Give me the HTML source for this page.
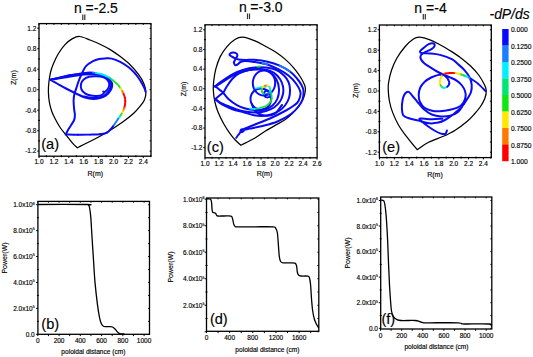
<!DOCTYPE html>
<html><head><meta charset="utf-8"><style>
html,body{margin:0;padding:0;background:#fff;}
svg{display:block;}
text{font-family:"Liberation Sans", sans-serif;fill:#000;stroke:#000;stroke-width:0.15px;}
</style></head><body>
<svg width="533" height="357" viewBox="0 0 533 357">
<rect width="533" height="357" fill="#fff"/>
<rect x="39.00" y="23.60" width="112.00" height="132.60" fill="none" stroke="#000" stroke-width="1.30"/>
<line x1="37.20" y1="151.14" x2="39.00" y2="151.14" stroke="#000" stroke-width="1.00"/>
<line x1="149.60" y1="151.14" x2="151.00" y2="151.14" stroke="#000" stroke-width="1.00"/>
<line x1="38.00" y1="140.90" x2="40.00" y2="140.90" stroke="#000" stroke-width="1.00"/>
<line x1="149.60" y1="140.90" x2="151.00" y2="140.90" stroke="#000" stroke-width="1.00"/>
<line x1="37.20" y1="130.66" x2="39.00" y2="130.66" stroke="#000" stroke-width="1.00"/>
<line x1="149.60" y1="130.66" x2="151.00" y2="130.66" stroke="#000" stroke-width="1.00"/>
<line x1="38.00" y1="120.42" x2="40.00" y2="120.42" stroke="#000" stroke-width="1.00"/>
<line x1="149.60" y1="120.42" x2="151.00" y2="120.42" stroke="#000" stroke-width="1.00"/>
<line x1="37.20" y1="110.18" x2="39.00" y2="110.18" stroke="#000" stroke-width="1.00"/>
<line x1="149.60" y1="110.18" x2="151.00" y2="110.18" stroke="#000" stroke-width="1.00"/>
<line x1="38.00" y1="99.94" x2="40.00" y2="99.94" stroke="#000" stroke-width="1.00"/>
<line x1="149.60" y1="99.94" x2="151.00" y2="99.94" stroke="#000" stroke-width="1.00"/>
<line x1="37.20" y1="89.70" x2="39.00" y2="89.70" stroke="#000" stroke-width="1.00"/>
<line x1="149.60" y1="89.70" x2="151.00" y2="89.70" stroke="#000" stroke-width="1.00"/>
<line x1="38.00" y1="79.46" x2="40.00" y2="79.46" stroke="#000" stroke-width="1.00"/>
<line x1="149.60" y1="79.46" x2="151.00" y2="79.46" stroke="#000" stroke-width="1.00"/>
<line x1="37.20" y1="69.22" x2="39.00" y2="69.22" stroke="#000" stroke-width="1.00"/>
<line x1="149.60" y1="69.22" x2="151.00" y2="69.22" stroke="#000" stroke-width="1.00"/>
<line x1="38.00" y1="58.98" x2="40.00" y2="58.98" stroke="#000" stroke-width="1.00"/>
<line x1="149.60" y1="58.98" x2="151.00" y2="58.98" stroke="#000" stroke-width="1.00"/>
<line x1="37.20" y1="48.74" x2="39.00" y2="48.74" stroke="#000" stroke-width="1.00"/>
<line x1="149.60" y1="48.74" x2="151.00" y2="48.74" stroke="#000" stroke-width="1.00"/>
<line x1="38.00" y1="38.50" x2="40.00" y2="38.50" stroke="#000" stroke-width="1.00"/>
<line x1="149.60" y1="38.50" x2="151.00" y2="38.50" stroke="#000" stroke-width="1.00"/>
<line x1="37.20" y1="28.26" x2="39.00" y2="28.26" stroke="#000" stroke-width="1.00"/>
<line x1="149.60" y1="28.26" x2="151.00" y2="28.26" stroke="#000" stroke-width="1.00"/>
<line x1="39.00" y1="156.20" x2="39.00" y2="158.00" stroke="#000" stroke-width="1.00"/>
<line x1="39.00" y1="23.60" x2="39.00" y2="24.90" stroke="#000" stroke-width="1.00"/>
<line x1="46.45" y1="155.20" x2="46.45" y2="157.20" stroke="#000" stroke-width="1.00"/>
<line x1="46.45" y1="23.60" x2="46.45" y2="24.90" stroke="#000" stroke-width="1.00"/>
<line x1="53.90" y1="156.20" x2="53.90" y2="158.00" stroke="#000" stroke-width="1.00"/>
<line x1="53.90" y1="23.60" x2="53.90" y2="24.90" stroke="#000" stroke-width="1.00"/>
<line x1="61.35" y1="155.20" x2="61.35" y2="157.20" stroke="#000" stroke-width="1.00"/>
<line x1="61.35" y1="23.60" x2="61.35" y2="24.90" stroke="#000" stroke-width="1.00"/>
<line x1="68.80" y1="156.20" x2="68.80" y2="158.00" stroke="#000" stroke-width="1.00"/>
<line x1="68.80" y1="23.60" x2="68.80" y2="24.90" stroke="#000" stroke-width="1.00"/>
<line x1="76.25" y1="155.20" x2="76.25" y2="157.20" stroke="#000" stroke-width="1.00"/>
<line x1="76.25" y1="23.60" x2="76.25" y2="24.90" stroke="#000" stroke-width="1.00"/>
<line x1="83.70" y1="156.20" x2="83.70" y2="158.00" stroke="#000" stroke-width="1.00"/>
<line x1="83.70" y1="23.60" x2="83.70" y2="24.90" stroke="#000" stroke-width="1.00"/>
<line x1="91.15" y1="155.20" x2="91.15" y2="157.20" stroke="#000" stroke-width="1.00"/>
<line x1="91.15" y1="23.60" x2="91.15" y2="24.90" stroke="#000" stroke-width="1.00"/>
<line x1="98.60" y1="156.20" x2="98.60" y2="158.00" stroke="#000" stroke-width="1.00"/>
<line x1="98.60" y1="23.60" x2="98.60" y2="24.90" stroke="#000" stroke-width="1.00"/>
<line x1="106.05" y1="155.20" x2="106.05" y2="157.20" stroke="#000" stroke-width="1.00"/>
<line x1="106.05" y1="23.60" x2="106.05" y2="24.90" stroke="#000" stroke-width="1.00"/>
<line x1="113.50" y1="156.20" x2="113.50" y2="158.00" stroke="#000" stroke-width="1.00"/>
<line x1="113.50" y1="23.60" x2="113.50" y2="24.90" stroke="#000" stroke-width="1.00"/>
<line x1="120.95" y1="155.20" x2="120.95" y2="157.20" stroke="#000" stroke-width="1.00"/>
<line x1="120.95" y1="23.60" x2="120.95" y2="24.90" stroke="#000" stroke-width="1.00"/>
<line x1="128.40" y1="156.20" x2="128.40" y2="158.00" stroke="#000" stroke-width="1.00"/>
<line x1="128.40" y1="23.60" x2="128.40" y2="24.90" stroke="#000" stroke-width="1.00"/>
<line x1="135.85" y1="155.20" x2="135.85" y2="157.20" stroke="#000" stroke-width="1.00"/>
<line x1="135.85" y1="23.60" x2="135.85" y2="24.90" stroke="#000" stroke-width="1.00"/>
<line x1="143.30" y1="156.20" x2="143.30" y2="158.00" stroke="#000" stroke-width="1.00"/>
<line x1="143.30" y1="23.60" x2="143.30" y2="24.90" stroke="#000" stroke-width="1.00"/>
<line x1="150.75" y1="155.20" x2="150.75" y2="157.20" stroke="#000" stroke-width="1.00"/>
<line x1="150.75" y1="23.60" x2="150.75" y2="24.90" stroke="#000" stroke-width="1.00"/>
<text x="36.40" y="30.60" font-size="6.50" text-anchor="end" >1.2</text>
<text x="36.40" y="51.08" font-size="6.50" text-anchor="end" >0.8</text>
<text x="36.40" y="71.56" font-size="6.50" text-anchor="end" >0.4</text>
<text x="36.40" y="92.04" font-size="6.50" text-anchor="end" >0.0</text>
<text x="36.40" y="112.52" font-size="6.50" text-anchor="end" >-0.4</text>
<text x="36.40" y="133.00" font-size="6.50" text-anchor="end" >-0.8</text>
<text x="36.40" y="153.48" font-size="6.50" text-anchor="end" >-1.2</text>
<text x="39.00" y="164.44" font-size="6.50" text-anchor="middle" >1.0</text>
<text x="53.90" y="164.44" font-size="6.50" text-anchor="middle" >1.2</text>
<text x="68.80" y="164.44" font-size="6.50" text-anchor="middle" >1.4</text>
<text x="83.70" y="164.44" font-size="6.50" text-anchor="middle" >1.6</text>
<text x="98.60" y="164.44" font-size="6.50" text-anchor="middle" >1.8</text>
<text x="113.50" y="164.44" font-size="6.50" text-anchor="middle" >2.0</text>
<text x="128.40" y="164.44" font-size="6.50" text-anchor="middle" >2.2</text>
<text x="143.30" y="164.44" font-size="6.50" text-anchor="middle" >2.4</text>
<text x="0" y="0" font-size="7" text-anchor="middle" transform="translate(15.90 77.60) rotate(-90)">Z(m)</text>
<text x="95.30" y="176.00" font-size="7.00" text-anchor="middle" >R(m)</text>
<text x="41.20" y="148.80" font-size="14.60" text-anchor="start" >(a)</text>
<rect x="205.00" y="24.80" width="112.10" height="133.00" fill="none" stroke="#000" stroke-width="1.30"/>
<line x1="203.20" y1="147.67" x2="205.00" y2="147.67" stroke="#000" stroke-width="1.00"/>
<line x1="315.70" y1="147.67" x2="317.10" y2="147.67" stroke="#000" stroke-width="1.00"/>
<line x1="204.00" y1="137.85" x2="206.00" y2="137.85" stroke="#000" stroke-width="1.00"/>
<line x1="315.70" y1="137.85" x2="317.10" y2="137.85" stroke="#000" stroke-width="1.00"/>
<line x1="203.20" y1="128.03" x2="205.00" y2="128.03" stroke="#000" stroke-width="1.00"/>
<line x1="315.70" y1="128.03" x2="317.10" y2="128.03" stroke="#000" stroke-width="1.00"/>
<line x1="204.00" y1="118.21" x2="206.00" y2="118.21" stroke="#000" stroke-width="1.00"/>
<line x1="315.70" y1="118.21" x2="317.10" y2="118.21" stroke="#000" stroke-width="1.00"/>
<line x1="203.20" y1="108.39" x2="205.00" y2="108.39" stroke="#000" stroke-width="1.00"/>
<line x1="315.70" y1="108.39" x2="317.10" y2="108.39" stroke="#000" stroke-width="1.00"/>
<line x1="204.00" y1="98.57" x2="206.00" y2="98.57" stroke="#000" stroke-width="1.00"/>
<line x1="315.70" y1="98.57" x2="317.10" y2="98.57" stroke="#000" stroke-width="1.00"/>
<line x1="203.20" y1="88.75" x2="205.00" y2="88.75" stroke="#000" stroke-width="1.00"/>
<line x1="315.70" y1="88.75" x2="317.10" y2="88.75" stroke="#000" stroke-width="1.00"/>
<line x1="204.00" y1="78.93" x2="206.00" y2="78.93" stroke="#000" stroke-width="1.00"/>
<line x1="315.70" y1="78.93" x2="317.10" y2="78.93" stroke="#000" stroke-width="1.00"/>
<line x1="203.20" y1="69.11" x2="205.00" y2="69.11" stroke="#000" stroke-width="1.00"/>
<line x1="315.70" y1="69.11" x2="317.10" y2="69.11" stroke="#000" stroke-width="1.00"/>
<line x1="204.00" y1="59.29" x2="206.00" y2="59.29" stroke="#000" stroke-width="1.00"/>
<line x1="315.70" y1="59.29" x2="317.10" y2="59.29" stroke="#000" stroke-width="1.00"/>
<line x1="203.20" y1="49.47" x2="205.00" y2="49.47" stroke="#000" stroke-width="1.00"/>
<line x1="315.70" y1="49.47" x2="317.10" y2="49.47" stroke="#000" stroke-width="1.00"/>
<line x1="204.00" y1="39.65" x2="206.00" y2="39.65" stroke="#000" stroke-width="1.00"/>
<line x1="315.70" y1="39.65" x2="317.10" y2="39.65" stroke="#000" stroke-width="1.00"/>
<line x1="203.20" y1="29.83" x2="205.00" y2="29.83" stroke="#000" stroke-width="1.00"/>
<line x1="315.70" y1="29.83" x2="317.10" y2="29.83" stroke="#000" stroke-width="1.00"/>
<line x1="205.00" y1="157.80" x2="205.00" y2="159.60" stroke="#000" stroke-width="1.00"/>
<line x1="205.00" y1="24.80" x2="205.00" y2="26.10" stroke="#000" stroke-width="1.00"/>
<line x1="212.00" y1="156.80" x2="212.00" y2="158.80" stroke="#000" stroke-width="1.00"/>
<line x1="212.00" y1="24.80" x2="212.00" y2="26.10" stroke="#000" stroke-width="1.00"/>
<line x1="219.00" y1="157.80" x2="219.00" y2="159.60" stroke="#000" stroke-width="1.00"/>
<line x1="219.00" y1="24.80" x2="219.00" y2="26.10" stroke="#000" stroke-width="1.00"/>
<line x1="226.00" y1="156.80" x2="226.00" y2="158.80" stroke="#000" stroke-width="1.00"/>
<line x1="226.00" y1="24.80" x2="226.00" y2="26.10" stroke="#000" stroke-width="1.00"/>
<line x1="233.00" y1="157.80" x2="233.00" y2="159.60" stroke="#000" stroke-width="1.00"/>
<line x1="233.00" y1="24.80" x2="233.00" y2="26.10" stroke="#000" stroke-width="1.00"/>
<line x1="240.00" y1="156.80" x2="240.00" y2="158.80" stroke="#000" stroke-width="1.00"/>
<line x1="240.00" y1="24.80" x2="240.00" y2="26.10" stroke="#000" stroke-width="1.00"/>
<line x1="247.00" y1="157.80" x2="247.00" y2="159.60" stroke="#000" stroke-width="1.00"/>
<line x1="247.00" y1="24.80" x2="247.00" y2="26.10" stroke="#000" stroke-width="1.00"/>
<line x1="254.00" y1="156.80" x2="254.00" y2="158.80" stroke="#000" stroke-width="1.00"/>
<line x1="254.00" y1="24.80" x2="254.00" y2="26.10" stroke="#000" stroke-width="1.00"/>
<line x1="261.00" y1="157.80" x2="261.00" y2="159.60" stroke="#000" stroke-width="1.00"/>
<line x1="261.00" y1="24.80" x2="261.00" y2="26.10" stroke="#000" stroke-width="1.00"/>
<line x1="268.00" y1="156.80" x2="268.00" y2="158.80" stroke="#000" stroke-width="1.00"/>
<line x1="268.00" y1="24.80" x2="268.00" y2="26.10" stroke="#000" stroke-width="1.00"/>
<line x1="275.00" y1="157.80" x2="275.00" y2="159.60" stroke="#000" stroke-width="1.00"/>
<line x1="275.00" y1="24.80" x2="275.00" y2="26.10" stroke="#000" stroke-width="1.00"/>
<line x1="282.00" y1="156.80" x2="282.00" y2="158.80" stroke="#000" stroke-width="1.00"/>
<line x1="282.00" y1="24.80" x2="282.00" y2="26.10" stroke="#000" stroke-width="1.00"/>
<line x1="289.00" y1="157.80" x2="289.00" y2="159.60" stroke="#000" stroke-width="1.00"/>
<line x1="289.00" y1="24.80" x2="289.00" y2="26.10" stroke="#000" stroke-width="1.00"/>
<line x1="296.00" y1="156.80" x2="296.00" y2="158.80" stroke="#000" stroke-width="1.00"/>
<line x1="296.00" y1="24.80" x2="296.00" y2="26.10" stroke="#000" stroke-width="1.00"/>
<line x1="303.00" y1="157.80" x2="303.00" y2="159.60" stroke="#000" stroke-width="1.00"/>
<line x1="303.00" y1="24.80" x2="303.00" y2="26.10" stroke="#000" stroke-width="1.00"/>
<line x1="310.00" y1="156.80" x2="310.00" y2="158.80" stroke="#000" stroke-width="1.00"/>
<line x1="310.00" y1="24.80" x2="310.00" y2="26.10" stroke="#000" stroke-width="1.00"/>
<line x1="317.00" y1="157.80" x2="317.00" y2="159.60" stroke="#000" stroke-width="1.00"/>
<line x1="317.00" y1="24.80" x2="317.00" y2="26.10" stroke="#000" stroke-width="1.00"/>
<text x="202.40" y="32.17" font-size="6.50" text-anchor="end" >1.2</text>
<text x="202.40" y="51.81" font-size="6.50" text-anchor="end" >0.8</text>
<text x="202.40" y="71.45" font-size="6.50" text-anchor="end" >0.4</text>
<text x="202.40" y="91.09" font-size="6.50" text-anchor="end" >0.0</text>
<text x="202.40" y="110.73" font-size="6.50" text-anchor="end" >-0.4</text>
<text x="202.40" y="130.37" font-size="6.50" text-anchor="end" >-0.8</text>
<text x="202.40" y="150.01" font-size="6.50" text-anchor="end" >-1.2</text>
<text x="205.00" y="166.24" font-size="6.50" text-anchor="middle" >1.0</text>
<text x="219.00" y="166.24" font-size="6.50" text-anchor="middle" >1.2</text>
<text x="233.00" y="166.24" font-size="6.50" text-anchor="middle" >1.4</text>
<text x="247.00" y="166.24" font-size="6.50" text-anchor="middle" >1.6</text>
<text x="261.00" y="166.24" font-size="6.50" text-anchor="middle" >1.8</text>
<text x="275.00" y="166.24" font-size="6.50" text-anchor="middle" >2.0</text>
<text x="289.00" y="166.24" font-size="6.50" text-anchor="middle" >2.2</text>
<text x="303.00" y="166.24" font-size="6.50" text-anchor="middle" >2.4</text>
<text x="317.00" y="166.24" font-size="6.50" text-anchor="middle" >2.6</text>
<text x="0" y="0" font-size="7" text-anchor="middle" transform="translate(185.80 89.00) rotate(-90)">Z(m)</text>
<text x="264.50" y="175.90" font-size="7.00" text-anchor="middle" >R(m)</text>
<text x="206.80" y="151.60" font-size="14.60" text-anchor="start" >(c)</text>
<rect x="379.40" y="25.00" width="111.90" height="132.60" fill="none" stroke="#000" stroke-width="1.30"/>
<line x1="377.60" y1="152.20" x2="379.40" y2="152.20" stroke="#000" stroke-width="1.00"/>
<line x1="489.90" y1="152.20" x2="491.30" y2="152.20" stroke="#000" stroke-width="1.00"/>
<line x1="378.40" y1="142.00" x2="380.40" y2="142.00" stroke="#000" stroke-width="1.00"/>
<line x1="489.90" y1="142.00" x2="491.30" y2="142.00" stroke="#000" stroke-width="1.00"/>
<line x1="377.60" y1="131.80" x2="379.40" y2="131.80" stroke="#000" stroke-width="1.00"/>
<line x1="489.90" y1="131.80" x2="491.30" y2="131.80" stroke="#000" stroke-width="1.00"/>
<line x1="378.40" y1="121.60" x2="380.40" y2="121.60" stroke="#000" stroke-width="1.00"/>
<line x1="489.90" y1="121.60" x2="491.30" y2="121.60" stroke="#000" stroke-width="1.00"/>
<line x1="377.60" y1="111.40" x2="379.40" y2="111.40" stroke="#000" stroke-width="1.00"/>
<line x1="489.90" y1="111.40" x2="491.30" y2="111.40" stroke="#000" stroke-width="1.00"/>
<line x1="378.40" y1="101.20" x2="380.40" y2="101.20" stroke="#000" stroke-width="1.00"/>
<line x1="489.90" y1="101.20" x2="491.30" y2="101.20" stroke="#000" stroke-width="1.00"/>
<line x1="377.60" y1="91.00" x2="379.40" y2="91.00" stroke="#000" stroke-width="1.00"/>
<line x1="489.90" y1="91.00" x2="491.30" y2="91.00" stroke="#000" stroke-width="1.00"/>
<line x1="378.40" y1="80.80" x2="380.40" y2="80.80" stroke="#000" stroke-width="1.00"/>
<line x1="489.90" y1="80.80" x2="491.30" y2="80.80" stroke="#000" stroke-width="1.00"/>
<line x1="377.60" y1="70.60" x2="379.40" y2="70.60" stroke="#000" stroke-width="1.00"/>
<line x1="489.90" y1="70.60" x2="491.30" y2="70.60" stroke="#000" stroke-width="1.00"/>
<line x1="378.40" y1="60.40" x2="380.40" y2="60.40" stroke="#000" stroke-width="1.00"/>
<line x1="489.90" y1="60.40" x2="491.30" y2="60.40" stroke="#000" stroke-width="1.00"/>
<line x1="377.60" y1="50.20" x2="379.40" y2="50.20" stroke="#000" stroke-width="1.00"/>
<line x1="489.90" y1="50.20" x2="491.30" y2="50.20" stroke="#000" stroke-width="1.00"/>
<line x1="378.40" y1="40.00" x2="380.40" y2="40.00" stroke="#000" stroke-width="1.00"/>
<line x1="489.90" y1="40.00" x2="491.30" y2="40.00" stroke="#000" stroke-width="1.00"/>
<line x1="377.60" y1="29.80" x2="379.40" y2="29.80" stroke="#000" stroke-width="1.00"/>
<line x1="489.90" y1="29.80" x2="491.30" y2="29.80" stroke="#000" stroke-width="1.00"/>
<line x1="379.50" y1="157.60" x2="379.50" y2="159.40" stroke="#000" stroke-width="1.00"/>
<line x1="379.50" y1="25.00" x2="379.50" y2="26.30" stroke="#000" stroke-width="1.00"/>
<line x1="386.92" y1="156.60" x2="386.92" y2="158.60" stroke="#000" stroke-width="1.00"/>
<line x1="386.92" y1="25.00" x2="386.92" y2="26.30" stroke="#000" stroke-width="1.00"/>
<line x1="394.34" y1="157.60" x2="394.34" y2="159.40" stroke="#000" stroke-width="1.00"/>
<line x1="394.34" y1="25.00" x2="394.34" y2="26.30" stroke="#000" stroke-width="1.00"/>
<line x1="401.76" y1="156.60" x2="401.76" y2="158.60" stroke="#000" stroke-width="1.00"/>
<line x1="401.76" y1="25.00" x2="401.76" y2="26.30" stroke="#000" stroke-width="1.00"/>
<line x1="409.18" y1="157.60" x2="409.18" y2="159.40" stroke="#000" stroke-width="1.00"/>
<line x1="409.18" y1="25.00" x2="409.18" y2="26.30" stroke="#000" stroke-width="1.00"/>
<line x1="416.60" y1="156.60" x2="416.60" y2="158.60" stroke="#000" stroke-width="1.00"/>
<line x1="416.60" y1="25.00" x2="416.60" y2="26.30" stroke="#000" stroke-width="1.00"/>
<line x1="424.02" y1="157.60" x2="424.02" y2="159.40" stroke="#000" stroke-width="1.00"/>
<line x1="424.02" y1="25.00" x2="424.02" y2="26.30" stroke="#000" stroke-width="1.00"/>
<line x1="431.44" y1="156.60" x2="431.44" y2="158.60" stroke="#000" stroke-width="1.00"/>
<line x1="431.44" y1="25.00" x2="431.44" y2="26.30" stroke="#000" stroke-width="1.00"/>
<line x1="438.86" y1="157.60" x2="438.86" y2="159.40" stroke="#000" stroke-width="1.00"/>
<line x1="438.86" y1="25.00" x2="438.86" y2="26.30" stroke="#000" stroke-width="1.00"/>
<line x1="446.28" y1="156.60" x2="446.28" y2="158.60" stroke="#000" stroke-width="1.00"/>
<line x1="446.28" y1="25.00" x2="446.28" y2="26.30" stroke="#000" stroke-width="1.00"/>
<line x1="453.70" y1="157.60" x2="453.70" y2="159.40" stroke="#000" stroke-width="1.00"/>
<line x1="453.70" y1="25.00" x2="453.70" y2="26.30" stroke="#000" stroke-width="1.00"/>
<line x1="461.12" y1="156.60" x2="461.12" y2="158.60" stroke="#000" stroke-width="1.00"/>
<line x1="461.12" y1="25.00" x2="461.12" y2="26.30" stroke="#000" stroke-width="1.00"/>
<line x1="468.54" y1="157.60" x2="468.54" y2="159.40" stroke="#000" stroke-width="1.00"/>
<line x1="468.54" y1="25.00" x2="468.54" y2="26.30" stroke="#000" stroke-width="1.00"/>
<line x1="475.96" y1="156.60" x2="475.96" y2="158.60" stroke="#000" stroke-width="1.00"/>
<line x1="475.96" y1="25.00" x2="475.96" y2="26.30" stroke="#000" stroke-width="1.00"/>
<line x1="483.38" y1="157.60" x2="483.38" y2="159.40" stroke="#000" stroke-width="1.00"/>
<line x1="483.38" y1="25.00" x2="483.38" y2="26.30" stroke="#000" stroke-width="1.00"/>
<line x1="490.80" y1="156.60" x2="490.80" y2="158.60" stroke="#000" stroke-width="1.00"/>
<line x1="490.80" y1="25.00" x2="490.80" y2="26.30" stroke="#000" stroke-width="1.00"/>
<text x="376.80" y="32.14" font-size="6.50" text-anchor="end" >1.2</text>
<text x="376.80" y="52.54" font-size="6.50" text-anchor="end" >0.8</text>
<text x="376.80" y="72.94" font-size="6.50" text-anchor="end" >0.4</text>
<text x="376.80" y="93.34" font-size="6.50" text-anchor="end" >0.0</text>
<text x="376.80" y="113.74" font-size="6.50" text-anchor="end" >-0.4</text>
<text x="376.80" y="134.14" font-size="6.50" text-anchor="end" >-0.8</text>
<text x="376.80" y="154.54" font-size="6.50" text-anchor="end" >-1.2</text>
<text x="379.50" y="166.04" font-size="6.50" text-anchor="middle" >1.0</text>
<text x="394.34" y="166.04" font-size="6.50" text-anchor="middle" >1.2</text>
<text x="409.18" y="166.04" font-size="6.50" text-anchor="middle" >1.4</text>
<text x="424.02" y="166.04" font-size="6.50" text-anchor="middle" >1.6</text>
<text x="438.86" y="166.04" font-size="6.50" text-anchor="middle" >1.8</text>
<text x="453.70" y="166.04" font-size="6.50" text-anchor="middle" >2.0</text>
<text x="468.54" y="166.04" font-size="6.50" text-anchor="middle" >2.2</text>
<text x="483.38" y="166.04" font-size="6.50" text-anchor="middle" >2.4</text>
<text x="0" y="0" font-size="7" text-anchor="middle" transform="translate(358.10 90.50) rotate(-90)">Z(m)</text>
<text x="435.00" y="177.10" font-size="7.00" text-anchor="middle" >R(m)</text>
<text x="382.20" y="151.80" font-size="14.60" text-anchor="start" >(e)</text>
<text x="74.00" y="13.30" font-size="14.00" text-anchor="start" >n</text>
<line x1="82.80" y1="14.50" x2="82.80" y2="20.10" stroke="#333" stroke-width="1.20"/>
<line x1="84.80" y1="14.50" x2="84.80" y2="20.10" stroke="#333" stroke-width="1.20"/>
<text x="85.60" y="13.30" font-size="14.00" text-anchor="start" >=-2.5</text>
<text x="238.90" y="12.30" font-size="14.00" text-anchor="start" >n</text>
<line x1="247.50" y1="13.50" x2="247.50" y2="19.10" stroke="#333" stroke-width="1.20"/>
<line x1="249.50" y1="13.50" x2="249.50" y2="19.10" stroke="#333" stroke-width="1.20"/>
<text x="250.30" y="12.30" font-size="14.00" text-anchor="start" >=-3.0</text>
<text x="414.30" y="12.80" font-size="14.00" text-anchor="start" >n</text>
<line x1="423.30" y1="14.00" x2="423.30" y2="19.60" stroke="#333" stroke-width="1.20"/>
<line x1="425.30" y1="14.00" x2="425.30" y2="19.60" stroke="#333" stroke-width="1.20"/>
<text x="426.10" y="12.80" font-size="14.00" text-anchor="start" >=-4</text>
<rect x="502.2" y="29.00" width="6.4" height="16.70" fill="#0a0aff"/>
<rect x="502.2" y="45.50" width="6.4" height="16.70" fill="#1a7eff"/>
<rect x="502.2" y="62.00" width="6.4" height="16.70" fill="#00f0ff"/>
<rect x="502.2" y="78.50" width="6.4" height="16.70" fill="#00e676"/>
<rect x="502.2" y="95.00" width="6.4" height="16.70" fill="#10e610"/>
<rect x="502.2" y="111.50" width="6.4" height="16.70" fill="#ffe800"/>
<rect x="502.2" y="128.00" width="6.4" height="16.70" fill="#ff7800"/>
<rect x="502.2" y="144.50" width="6.4" height="16.70" fill="#ff0000"/>
<text x="510.90" y="32.11" font-size="6.70" text-anchor="start" >0.000</text>
<text x="510.90" y="48.61" font-size="6.70" text-anchor="start" >0.1250</text>
<text x="510.90" y="65.11" font-size="6.70" text-anchor="start" >0.2500</text>
<text x="510.90" y="81.61" font-size="6.70" text-anchor="start" >0.3750</text>
<text x="510.90" y="98.11" font-size="6.70" text-anchor="start" >0.5000</text>
<text x="510.90" y="114.61" font-size="6.70" text-anchor="start" >0.6250</text>
<text x="510.90" y="131.11" font-size="6.70" text-anchor="start" >0.7500</text>
<text x="510.90" y="147.61" font-size="6.70" text-anchor="start" >0.8750</text>
<text x="510.90" y="164.11" font-size="6.70" text-anchor="start" >1.000</text>
<text x="489.50" y="18.50" font-size="13.90" text-anchor="start" font-style="italic">-dP/ds</text>
<rect x="37.90" y="201.40" width="111.60" height="132.90" fill="none" stroke="#000" stroke-width="1.30"/>
<line x1="36.10" y1="334.30" x2="37.90" y2="334.30" stroke="#000" stroke-width="1.00"/>
<line x1="148.10" y1="334.30" x2="149.50" y2="334.30" stroke="#000" stroke-width="1.00"/>
<line x1="36.90" y1="321.34" x2="38.90" y2="321.34" stroke="#000" stroke-width="1.00"/>
<line x1="148.10" y1="321.34" x2="149.50" y2="321.34" stroke="#000" stroke-width="1.00"/>
<line x1="36.10" y1="308.38" x2="37.90" y2="308.38" stroke="#000" stroke-width="1.00"/>
<line x1="148.10" y1="308.38" x2="149.50" y2="308.38" stroke="#000" stroke-width="1.00"/>
<line x1="36.90" y1="295.42" x2="38.90" y2="295.42" stroke="#000" stroke-width="1.00"/>
<line x1="148.10" y1="295.42" x2="149.50" y2="295.42" stroke="#000" stroke-width="1.00"/>
<line x1="36.10" y1="282.46" x2="37.90" y2="282.46" stroke="#000" stroke-width="1.00"/>
<line x1="148.10" y1="282.46" x2="149.50" y2="282.46" stroke="#000" stroke-width="1.00"/>
<line x1="36.90" y1="269.50" x2="38.90" y2="269.50" stroke="#000" stroke-width="1.00"/>
<line x1="148.10" y1="269.50" x2="149.50" y2="269.50" stroke="#000" stroke-width="1.00"/>
<line x1="36.10" y1="256.54" x2="37.90" y2="256.54" stroke="#000" stroke-width="1.00"/>
<line x1="148.10" y1="256.54" x2="149.50" y2="256.54" stroke="#000" stroke-width="1.00"/>
<line x1="36.90" y1="243.58" x2="38.90" y2="243.58" stroke="#000" stroke-width="1.00"/>
<line x1="148.10" y1="243.58" x2="149.50" y2="243.58" stroke="#000" stroke-width="1.00"/>
<line x1="36.10" y1="230.62" x2="37.90" y2="230.62" stroke="#000" stroke-width="1.00"/>
<line x1="148.10" y1="230.62" x2="149.50" y2="230.62" stroke="#000" stroke-width="1.00"/>
<line x1="36.90" y1="217.66" x2="38.90" y2="217.66" stroke="#000" stroke-width="1.00"/>
<line x1="148.10" y1="217.66" x2="149.50" y2="217.66" stroke="#000" stroke-width="1.00"/>
<line x1="36.10" y1="204.70" x2="37.90" y2="204.70" stroke="#000" stroke-width="1.00"/>
<line x1="148.10" y1="204.70" x2="149.50" y2="204.70" stroke="#000" stroke-width="1.00"/>
<line x1="37.80" y1="334.30" x2="37.80" y2="336.10" stroke="#000" stroke-width="1.00"/>
<line x1="37.80" y1="201.40" x2="37.80" y2="202.70" stroke="#000" stroke-width="1.00"/>
<line x1="48.43" y1="334.30" x2="48.43" y2="336.10" stroke="#000" stroke-width="1.00"/>
<line x1="48.43" y1="201.40" x2="48.43" y2="202.70" stroke="#000" stroke-width="1.00"/>
<line x1="59.06" y1="334.30" x2="59.06" y2="336.10" stroke="#000" stroke-width="1.00"/>
<line x1="59.06" y1="201.40" x2="59.06" y2="202.70" stroke="#000" stroke-width="1.00"/>
<line x1="69.69" y1="334.30" x2="69.69" y2="336.10" stroke="#000" stroke-width="1.00"/>
<line x1="69.69" y1="201.40" x2="69.69" y2="202.70" stroke="#000" stroke-width="1.00"/>
<line x1="80.32" y1="334.30" x2="80.32" y2="336.10" stroke="#000" stroke-width="1.00"/>
<line x1="80.32" y1="201.40" x2="80.32" y2="202.70" stroke="#000" stroke-width="1.00"/>
<line x1="90.95" y1="334.30" x2="90.95" y2="336.10" stroke="#000" stroke-width="1.00"/>
<line x1="90.95" y1="201.40" x2="90.95" y2="202.70" stroke="#000" stroke-width="1.00"/>
<line x1="101.58" y1="334.30" x2="101.58" y2="336.10" stroke="#000" stroke-width="1.00"/>
<line x1="101.58" y1="201.40" x2="101.58" y2="202.70" stroke="#000" stroke-width="1.00"/>
<line x1="112.21" y1="334.30" x2="112.21" y2="336.10" stroke="#000" stroke-width="1.00"/>
<line x1="112.21" y1="201.40" x2="112.21" y2="202.70" stroke="#000" stroke-width="1.00"/>
<line x1="122.84" y1="334.30" x2="122.84" y2="336.10" stroke="#000" stroke-width="1.00"/>
<line x1="122.84" y1="201.40" x2="122.84" y2="202.70" stroke="#000" stroke-width="1.00"/>
<line x1="133.47" y1="334.30" x2="133.47" y2="336.10" stroke="#000" stroke-width="1.00"/>
<line x1="133.47" y1="201.40" x2="133.47" y2="202.70" stroke="#000" stroke-width="1.00"/>
<line x1="144.10" y1="334.30" x2="144.10" y2="336.10" stroke="#000" stroke-width="1.00"/>
<line x1="144.10" y1="201.40" x2="144.10" y2="202.70" stroke="#000" stroke-width="1.00"/>
<text x="34.70" y="336.64" font-size="6.50" text-anchor="end" >0.0</text>
<text x="34.70" y="310.82" font-size="6.50" text-anchor="end">2.0x10<tspan font-size="3.58" dy="-2.6">5</tspan></text>
<text x="34.70" y="284.90" font-size="6.50" text-anchor="end">4.0x10<tspan font-size="3.58" dy="-2.6">5</tspan></text>
<text x="34.70" y="258.98" font-size="6.50" text-anchor="end">6.0x10<tspan font-size="3.58" dy="-2.6">5</tspan></text>
<text x="34.70" y="233.06" font-size="6.50" text-anchor="end">8.0x10<tspan font-size="3.58" dy="-2.6">5</tspan></text>
<text x="34.70" y="207.14" font-size="6.50" text-anchor="end">1.0x10<tspan font-size="3.58" dy="-2.6">6</tspan></text>
<text x="37.80" y="343.24" font-size="6.50" text-anchor="middle" >0</text>
<text x="59.06" y="343.24" font-size="6.50" text-anchor="middle" >200</text>
<text x="80.32" y="343.24" font-size="6.50" text-anchor="middle" >400</text>
<text x="101.58" y="343.24" font-size="6.50" text-anchor="middle" >600</text>
<text x="122.84" y="343.24" font-size="6.50" text-anchor="middle" >800</text>
<text x="144.10" y="343.24" font-size="6.50" text-anchor="middle" >1000</text>
<text x="93.40" y="354.48" font-size="6.60" text-anchor="middle" >poloidal distance (cm)</text>
<text x="0" y="0" font-size="7" text-anchor="middle" transform="translate(7.10 258.00) rotate(-90)">Power(W)</text>
<text x="41.30" y="328.80" font-size="14.60" text-anchor="start" >(b)</text>
<rect x="206.50" y="198.00" width="112.30" height="133.30" fill="none" stroke="#000" stroke-width="1.30"/>
<line x1="204.70" y1="331.80" x2="206.50" y2="331.80" stroke="#000" stroke-width="1.00"/>
<line x1="317.40" y1="331.80" x2="318.80" y2="331.80" stroke="#000" stroke-width="1.00"/>
<line x1="205.50" y1="318.54" x2="207.50" y2="318.54" stroke="#000" stroke-width="1.00"/>
<line x1="317.40" y1="318.54" x2="318.80" y2="318.54" stroke="#000" stroke-width="1.00"/>
<line x1="204.70" y1="305.28" x2="206.50" y2="305.28" stroke="#000" stroke-width="1.00"/>
<line x1="317.40" y1="305.28" x2="318.80" y2="305.28" stroke="#000" stroke-width="1.00"/>
<line x1="205.50" y1="292.02" x2="207.50" y2="292.02" stroke="#000" stroke-width="1.00"/>
<line x1="317.40" y1="292.02" x2="318.80" y2="292.02" stroke="#000" stroke-width="1.00"/>
<line x1="204.70" y1="278.76" x2="206.50" y2="278.76" stroke="#000" stroke-width="1.00"/>
<line x1="317.40" y1="278.76" x2="318.80" y2="278.76" stroke="#000" stroke-width="1.00"/>
<line x1="205.50" y1="265.50" x2="207.50" y2="265.50" stroke="#000" stroke-width="1.00"/>
<line x1="317.40" y1="265.50" x2="318.80" y2="265.50" stroke="#000" stroke-width="1.00"/>
<line x1="204.70" y1="252.24" x2="206.50" y2="252.24" stroke="#000" stroke-width="1.00"/>
<line x1="317.40" y1="252.24" x2="318.80" y2="252.24" stroke="#000" stroke-width="1.00"/>
<line x1="205.50" y1="238.98" x2="207.50" y2="238.98" stroke="#000" stroke-width="1.00"/>
<line x1="317.40" y1="238.98" x2="318.80" y2="238.98" stroke="#000" stroke-width="1.00"/>
<line x1="204.70" y1="225.72" x2="206.50" y2="225.72" stroke="#000" stroke-width="1.00"/>
<line x1="317.40" y1="225.72" x2="318.80" y2="225.72" stroke="#000" stroke-width="1.00"/>
<line x1="205.50" y1="212.46" x2="207.50" y2="212.46" stroke="#000" stroke-width="1.00"/>
<line x1="317.40" y1="212.46" x2="318.80" y2="212.46" stroke="#000" stroke-width="1.00"/>
<line x1="204.70" y1="199.20" x2="206.50" y2="199.20" stroke="#000" stroke-width="1.00"/>
<line x1="317.40" y1="199.20" x2="318.80" y2="199.20" stroke="#000" stroke-width="1.00"/>
<line x1="206.50" y1="331.30" x2="206.50" y2="333.10" stroke="#000" stroke-width="1.00"/>
<line x1="206.50" y1="198.00" x2="206.50" y2="199.30" stroke="#000" stroke-width="1.00"/>
<line x1="218.08" y1="331.30" x2="218.08" y2="333.10" stroke="#000" stroke-width="1.00"/>
<line x1="218.08" y1="198.00" x2="218.08" y2="199.30" stroke="#000" stroke-width="1.00"/>
<line x1="229.65" y1="331.30" x2="229.65" y2="333.10" stroke="#000" stroke-width="1.00"/>
<line x1="229.65" y1="198.00" x2="229.65" y2="199.30" stroke="#000" stroke-width="1.00"/>
<line x1="241.23" y1="331.30" x2="241.23" y2="333.10" stroke="#000" stroke-width="1.00"/>
<line x1="241.23" y1="198.00" x2="241.23" y2="199.30" stroke="#000" stroke-width="1.00"/>
<line x1="252.80" y1="331.30" x2="252.80" y2="333.10" stroke="#000" stroke-width="1.00"/>
<line x1="252.80" y1="198.00" x2="252.80" y2="199.30" stroke="#000" stroke-width="1.00"/>
<line x1="264.38" y1="331.30" x2="264.38" y2="333.10" stroke="#000" stroke-width="1.00"/>
<line x1="264.38" y1="198.00" x2="264.38" y2="199.30" stroke="#000" stroke-width="1.00"/>
<line x1="275.96" y1="331.30" x2="275.96" y2="333.10" stroke="#000" stroke-width="1.00"/>
<line x1="275.96" y1="198.00" x2="275.96" y2="199.30" stroke="#000" stroke-width="1.00"/>
<line x1="287.53" y1="331.30" x2="287.53" y2="333.10" stroke="#000" stroke-width="1.00"/>
<line x1="287.53" y1="198.00" x2="287.53" y2="199.30" stroke="#000" stroke-width="1.00"/>
<line x1="299.11" y1="331.30" x2="299.11" y2="333.10" stroke="#000" stroke-width="1.00"/>
<line x1="299.11" y1="198.00" x2="299.11" y2="199.30" stroke="#000" stroke-width="1.00"/>
<line x1="310.68" y1="331.30" x2="310.68" y2="333.10" stroke="#000" stroke-width="1.00"/>
<line x1="310.68" y1="198.00" x2="310.68" y2="199.30" stroke="#000" stroke-width="1.00"/>
<text x="204.50" y="307.72" font-size="6.50" text-anchor="end">2.0x10<tspan font-size="3.58" dy="-2.6">5</tspan></text>
<text x="204.50" y="281.20" font-size="6.50" text-anchor="end">4.0x10<tspan font-size="3.58" dy="-2.6">5</tspan></text>
<text x="204.50" y="254.68" font-size="6.50" text-anchor="end">6.0x10<tspan font-size="3.58" dy="-2.6">5</tspan></text>
<text x="204.50" y="228.16" font-size="6.50" text-anchor="end">8.0x10<tspan font-size="3.58" dy="-2.6">5</tspan></text>
<text x="204.50" y="201.64" font-size="6.50" text-anchor="end">1.0x10<tspan font-size="3.58" dy="-2.6">6</tspan></text>
<text x="206.50" y="340.04" font-size="6.50" text-anchor="middle" >0</text>
<text x="229.65" y="340.04" font-size="6.50" text-anchor="middle" >400</text>
<text x="252.80" y="340.04" font-size="6.50" text-anchor="middle" >800</text>
<text x="275.96" y="340.04" font-size="6.50" text-anchor="middle" >1200</text>
<text x="299.11" y="340.04" font-size="6.50" text-anchor="middle" >1600</text>
<text x="267.40" y="352.48" font-size="6.60" text-anchor="middle" >poloidal distance (cm)</text>
<text x="0" y="0" font-size="7" text-anchor="middle" transform="translate(173.40 267.00) rotate(-90)">Power(W)</text>
<text x="209.90" y="324.40" font-size="14.60" text-anchor="start" >(d)</text>
<rect x="380.70" y="197.00" width="111.10" height="132.00" fill="none" stroke="#000" stroke-width="1.30"/>
<line x1="378.90" y1="328.30" x2="380.70" y2="328.30" stroke="#000" stroke-width="1.00"/>
<line x1="490.40" y1="328.30" x2="491.80" y2="328.30" stroke="#000" stroke-width="1.00"/>
<line x1="379.70" y1="315.52" x2="381.70" y2="315.52" stroke="#000" stroke-width="1.00"/>
<line x1="490.40" y1="315.52" x2="491.80" y2="315.52" stroke="#000" stroke-width="1.00"/>
<line x1="378.90" y1="302.74" x2="380.70" y2="302.74" stroke="#000" stroke-width="1.00"/>
<line x1="490.40" y1="302.74" x2="491.80" y2="302.74" stroke="#000" stroke-width="1.00"/>
<line x1="379.70" y1="289.96" x2="381.70" y2="289.96" stroke="#000" stroke-width="1.00"/>
<line x1="490.40" y1="289.96" x2="491.80" y2="289.96" stroke="#000" stroke-width="1.00"/>
<line x1="378.90" y1="277.18" x2="380.70" y2="277.18" stroke="#000" stroke-width="1.00"/>
<line x1="490.40" y1="277.18" x2="491.80" y2="277.18" stroke="#000" stroke-width="1.00"/>
<line x1="379.70" y1="264.40" x2="381.70" y2="264.40" stroke="#000" stroke-width="1.00"/>
<line x1="490.40" y1="264.40" x2="491.80" y2="264.40" stroke="#000" stroke-width="1.00"/>
<line x1="378.90" y1="251.62" x2="380.70" y2="251.62" stroke="#000" stroke-width="1.00"/>
<line x1="490.40" y1="251.62" x2="491.80" y2="251.62" stroke="#000" stroke-width="1.00"/>
<line x1="379.70" y1="238.84" x2="381.70" y2="238.84" stroke="#000" stroke-width="1.00"/>
<line x1="490.40" y1="238.84" x2="491.80" y2="238.84" stroke="#000" stroke-width="1.00"/>
<line x1="378.90" y1="226.06" x2="380.70" y2="226.06" stroke="#000" stroke-width="1.00"/>
<line x1="490.40" y1="226.06" x2="491.80" y2="226.06" stroke="#000" stroke-width="1.00"/>
<line x1="379.70" y1="213.28" x2="381.70" y2="213.28" stroke="#000" stroke-width="1.00"/>
<line x1="490.40" y1="213.28" x2="491.80" y2="213.28" stroke="#000" stroke-width="1.00"/>
<line x1="378.90" y1="200.50" x2="380.70" y2="200.50" stroke="#000" stroke-width="1.00"/>
<line x1="490.40" y1="200.50" x2="491.80" y2="200.50" stroke="#000" stroke-width="1.00"/>
<line x1="380.50" y1="329.00" x2="380.50" y2="330.80" stroke="#000" stroke-width="1.00"/>
<line x1="380.50" y1="197.00" x2="380.50" y2="198.30" stroke="#000" stroke-width="1.00"/>
<line x1="391.07" y1="329.00" x2="391.07" y2="330.80" stroke="#000" stroke-width="1.00"/>
<line x1="391.07" y1="197.00" x2="391.07" y2="198.30" stroke="#000" stroke-width="1.00"/>
<line x1="401.64" y1="329.00" x2="401.64" y2="330.80" stroke="#000" stroke-width="1.00"/>
<line x1="401.64" y1="197.00" x2="401.64" y2="198.30" stroke="#000" stroke-width="1.00"/>
<line x1="412.21" y1="329.00" x2="412.21" y2="330.80" stroke="#000" stroke-width="1.00"/>
<line x1="412.21" y1="197.00" x2="412.21" y2="198.30" stroke="#000" stroke-width="1.00"/>
<line x1="422.78" y1="329.00" x2="422.78" y2="330.80" stroke="#000" stroke-width="1.00"/>
<line x1="422.78" y1="197.00" x2="422.78" y2="198.30" stroke="#000" stroke-width="1.00"/>
<line x1="433.35" y1="329.00" x2="433.35" y2="330.80" stroke="#000" stroke-width="1.00"/>
<line x1="433.35" y1="197.00" x2="433.35" y2="198.30" stroke="#000" stroke-width="1.00"/>
<line x1="443.92" y1="329.00" x2="443.92" y2="330.80" stroke="#000" stroke-width="1.00"/>
<line x1="443.92" y1="197.00" x2="443.92" y2="198.30" stroke="#000" stroke-width="1.00"/>
<line x1="454.49" y1="329.00" x2="454.49" y2="330.80" stroke="#000" stroke-width="1.00"/>
<line x1="454.49" y1="197.00" x2="454.49" y2="198.30" stroke="#000" stroke-width="1.00"/>
<line x1="465.06" y1="329.00" x2="465.06" y2="330.80" stroke="#000" stroke-width="1.00"/>
<line x1="465.06" y1="197.00" x2="465.06" y2="198.30" stroke="#000" stroke-width="1.00"/>
<line x1="475.63" y1="329.00" x2="475.63" y2="330.80" stroke="#000" stroke-width="1.00"/>
<line x1="475.63" y1="197.00" x2="475.63" y2="198.30" stroke="#000" stroke-width="1.00"/>
<line x1="486.20" y1="329.00" x2="486.20" y2="330.80" stroke="#000" stroke-width="1.00"/>
<line x1="486.20" y1="197.00" x2="486.20" y2="198.30" stroke="#000" stroke-width="1.00"/>
<text x="378.00" y="330.64" font-size="6.50" text-anchor="end" >0.0</text>
<text x="378.00" y="305.18" font-size="6.50" text-anchor="end">2.0x10<tspan font-size="3.58" dy="-2.6">5</tspan></text>
<text x="378.00" y="279.62" font-size="6.50" text-anchor="end">4.0x10<tspan font-size="3.58" dy="-2.6">5</tspan></text>
<text x="378.00" y="254.06" font-size="6.50" text-anchor="end">6.0x10<tspan font-size="3.58" dy="-2.6">5</tspan></text>
<text x="378.00" y="228.50" font-size="6.50" text-anchor="end">8.0x10<tspan font-size="3.58" dy="-2.6">5</tspan></text>
<text x="378.00" y="202.94" font-size="6.50" text-anchor="end">1.0x10<tspan font-size="3.58" dy="-2.6">6</tspan></text>
<text x="380.50" y="337.94" font-size="6.50" text-anchor="middle" >0</text>
<text x="401.64" y="337.94" font-size="6.50" text-anchor="middle" >200</text>
<text x="422.78" y="337.94" font-size="6.50" text-anchor="middle" >400</text>
<text x="443.92" y="337.94" font-size="6.50" text-anchor="middle" >600</text>
<text x="465.06" y="337.94" font-size="6.50" text-anchor="middle" >800</text>
<text x="486.20" y="337.94" font-size="6.50" text-anchor="middle" >1000</text>
<text x="436.50" y="349.28" font-size="6.60" text-anchor="middle" >poloidal distance (cm)</text>
<text x="0" y="0" font-size="7" text-anchor="middle" transform="translate(349.90 253.00) rotate(-90)">Power(W)</text>
<text x="381.40" y="323.90" font-size="14.60" text-anchor="start" >(f)</text>
<path d="M38.50 204.50 C46.58 204.50 78.65 204.37 87.00 204.50 C95.35 204.63 88.17 204.72 88.60 205.30 C89.03 205.88 89.23 205.98 89.60 208.00 C89.97 210.02 90.37 212.07 90.80 217.40 C91.23 222.73 91.75 232.90 92.20 240.00 C92.65 247.10 93.03 252.93 93.50 260.00 C93.97 267.07 94.33 274.93 95.00 282.40 C95.67 289.87 96.72 298.82 97.50 304.80 C98.28 310.78 99.03 315.10 99.70 318.30 C100.37 321.50 100.87 322.67 101.50 324.00 C102.13 325.33 102.75 325.87 103.50 326.30 C104.25 326.73 104.92 326.55 106.00 326.60 C107.08 326.65 108.92 326.53 110.00 326.60 C111.08 326.67 111.67 326.60 112.50 327.00 C113.33 327.40 114.08 328.08 115.00 329.00 C115.92 329.92 117.08 331.70 118.00 332.50 C118.92 333.30 119.50 333.55 120.50 333.80 C121.50 334.05 123.42 333.97 124.00 334.00" fill="none" stroke="#000" stroke-width="1.30" stroke-linecap="round" stroke-linejoin="round"/>
<path d="M206.70 199.00 C207.35 199.03 209.78 198.53 210.60 199.20 C211.42 199.87 211.35 201.20 211.60 203.00 C211.85 204.80 211.90 208.43 212.10 210.00 C212.30 211.57 212.48 211.95 212.80 212.40 C213.12 212.85 213.53 212.57 214.00 212.70 C214.47 212.83 215.17 212.75 215.60 213.20 C216.03 213.65 216.20 214.93 216.60 215.40 C217.00 215.87 216.77 215.90 218.00 216.00 C219.23 216.10 221.83 215.98 224.00 216.00 C226.17 216.02 229.58 215.68 231.00 216.10 C232.42 216.52 232.05 217.18 232.50 218.50 C232.95 219.82 233.25 222.67 233.70 224.00 C234.15 225.33 234.48 226.03 235.20 226.50 C235.92 226.97 234.70 226.75 238.00 226.80 C241.30 226.85 249.12 226.78 255.00 226.80 C260.88 226.82 269.83 226.60 273.30 226.90 C276.77 227.20 275.12 227.58 275.80 228.60 C276.48 229.62 276.97 230.27 277.40 233.00 C277.83 235.73 278.08 241.08 278.40 245.00 C278.72 248.92 278.93 253.75 279.30 256.50 C279.67 259.25 279.98 260.45 280.60 261.50 C281.22 262.55 281.43 262.58 283.00 262.80 C284.57 263.02 288.00 262.73 290.00 262.80 C292.00 262.87 293.90 262.67 295.00 263.20 C296.10 263.73 296.22 264.53 296.60 266.00 C296.98 267.47 296.98 270.50 297.30 272.00 C297.62 273.50 297.88 274.33 298.50 275.00 C299.12 275.67 299.42 275.80 301.00 276.00 C302.58 276.20 306.57 275.78 308.00 276.20 C309.43 276.62 309.17 277.03 309.60 278.50 C310.03 279.97 310.27 281.42 310.60 285.00 C310.93 288.58 311.25 295.67 311.60 300.00 C311.95 304.33 312.27 307.92 312.70 311.00 C313.13 314.08 313.62 316.37 314.20 318.50 C314.78 320.63 315.48 322.28 316.20 323.80 C316.92 325.32 318.12 326.97 318.50 327.60" fill="none" stroke="#000" stroke-width="1.30" stroke-linecap="round" stroke-linejoin="round"/>
<path d="M381.00 200.20 C381.33 200.23 382.45 200.12 383.00 200.40 C383.55 200.68 383.87 200.30 384.30 201.90 C384.73 203.50 385.22 206.65 385.60 210.00 C385.98 213.35 386.27 217.00 386.60 222.00 C386.93 227.00 387.27 232.83 387.60 240.00 C387.93 247.17 388.28 257.50 388.60 265.00 C388.92 272.50 389.17 278.90 389.50 285.00 C389.83 291.10 390.27 297.27 390.60 301.60 C390.93 305.93 391.02 308.47 391.50 311.00 C391.98 313.53 392.58 315.37 393.50 316.80 C394.42 318.23 395.75 318.98 397.00 319.60 C398.25 320.22 398.00 320.35 401.00 320.50 C404.00 320.65 411.92 320.33 415.00 320.50 C418.08 320.67 418.00 321.12 419.50 321.50 C421.00 321.88 422.25 322.58 424.00 322.80 C425.75 323.02 424.33 322.80 430.00 322.80 C435.67 322.80 452.67 322.63 458.00 322.80 C463.33 322.97 460.67 323.60 462.00 323.80 C463.33 324.00 461.50 323.97 466.00 324.00 C470.50 324.03 484.80 323.73 489.00 324.00 C493.20 324.27 490.83 325.33 491.20 325.60" fill="none" stroke="#000" stroke-width="1.30" stroke-linecap="round" stroke-linejoin="round"/>
<path d="M77.30 147.80 C76.50 147.02 74.33 145.18 72.50 143.10 C70.67 141.02 68.30 137.82 66.30 135.30 C64.30 132.78 62.30 130.63 60.50 128.00 C58.70 125.37 56.95 122.25 55.50 119.50 C54.05 116.75 52.83 114.43 51.80 111.50 C50.77 108.57 49.87 105.18 49.30 101.90 C48.73 98.62 48.47 95.12 48.40 91.80 C48.33 88.48 48.53 85.30 48.90 82.00 C49.27 78.70 49.85 75.05 50.60 72.00 C51.35 68.95 52.12 66.75 53.40 63.70 C54.68 60.65 56.37 56.88 58.30 53.70 C60.23 50.52 62.63 47.12 65.00 44.60 C67.37 42.08 70.03 39.95 72.50 38.60 C74.97 37.25 76.88 36.27 79.80 36.50 C82.72 36.73 86.63 38.72 90.00 40.00 C93.37 41.28 96.63 42.60 100.00 44.20 C103.37 45.80 106.82 47.53 110.20 49.60 C113.58 51.67 116.95 54.03 120.30 56.60 C123.65 59.17 127.27 62.03 130.30 65.00 C133.33 67.97 136.25 71.33 138.50 74.40 C140.75 77.47 142.57 80.40 143.80 83.40 C145.03 86.40 145.80 89.63 145.90 92.40 C146.00 95.17 145.38 97.68 144.40 100.00 C143.42 102.32 141.78 104.08 140.00 106.30 C138.22 108.52 136.58 110.68 133.70 113.30 C130.82 115.92 127.15 118.85 122.70 122.00 C118.25 125.15 112.22 129.07 107.00 132.20 C101.78 135.33 96.35 138.20 91.40 140.80 C86.45 143.40 79.65 146.63 77.30 147.80" fill="none" stroke="#000" stroke-width="1.25" stroke-linecap="round" stroke-linejoin="round"/>
<path d="M240.80 145.20 C239.88 144.33 237.07 141.90 235.30 140.00 C233.53 138.10 232.13 136.52 230.20 133.80 C228.27 131.08 225.73 127.33 223.70 123.70 C221.67 120.07 219.48 115.70 218.00 112.00 C216.52 108.30 215.58 105.17 214.80 101.50 C214.02 97.83 213.47 93.52 213.30 90.00 C213.13 86.48 213.37 83.95 213.80 80.40 C214.23 76.85 214.85 72.62 215.90 68.70 C216.95 64.78 218.28 60.55 220.10 56.90 C221.92 53.25 224.27 49.75 226.80 46.80 C229.33 43.85 232.63 40.82 235.30 39.20 C237.97 37.58 239.52 36.82 242.80 37.10 C246.08 37.38 251.30 39.42 255.00 40.90 C258.70 42.38 261.63 44.18 265.00 46.00 C268.37 47.82 271.82 49.57 275.20 51.80 C278.58 54.03 282.22 56.73 285.30 59.40 C288.38 62.07 291.18 64.87 293.70 67.80 C296.22 70.73 298.58 74.13 300.40 77.00 C302.22 79.87 303.77 82.83 304.60 85.00 C305.43 87.17 305.57 87.83 305.40 90.00 C305.23 92.17 304.75 95.30 303.60 98.00 C302.45 100.70 300.38 103.62 298.50 106.20 C296.62 108.78 294.50 111.30 292.30 113.50 C290.10 115.70 288.15 117.42 285.30 119.40 C282.45 121.38 278.58 123.42 275.20 125.40 C271.82 127.38 268.37 129.20 265.00 131.30 C261.63 133.40 259.03 135.68 255.00 138.00 C250.97 140.32 243.17 144.00 240.80 145.20" fill="none" stroke="#000" stroke-width="1.25" stroke-linecap="round" stroke-linejoin="round"/>
<path d="M417.20 149.70 C415.30 147.35 408.92 139.72 405.80 135.60 C402.68 131.48 400.70 128.87 398.50 125.00 C396.30 121.13 394.12 116.40 392.60 112.40 C391.08 108.40 390.13 104.90 389.40 101.00 C388.67 97.10 388.32 92.20 388.20 89.00 C388.08 85.80 388.15 84.92 388.70 81.80 C389.25 78.68 390.15 74.22 391.50 70.30 C392.85 66.38 394.52 62.27 396.80 58.30 C399.08 54.33 402.43 49.72 405.20 46.50 C407.97 43.28 411.02 40.55 413.40 39.00 C415.78 37.45 416.73 37.07 419.50 37.20 C422.27 37.33 426.58 38.53 430.00 39.80 C433.42 41.07 436.63 42.98 440.00 44.80 C443.37 46.62 446.82 48.60 450.20 50.70 C453.58 52.80 456.95 54.88 460.30 57.40 C463.65 59.92 467.23 62.87 470.30 65.80 C473.37 68.73 476.32 71.78 478.70 75.00 C481.08 78.22 483.33 82.43 484.60 85.10 C485.87 87.77 486.27 88.77 486.30 91.00 C486.33 93.23 485.77 95.92 484.80 98.50 C483.83 101.08 482.30 103.83 480.50 106.50 C478.70 109.17 476.25 112.00 474.00 114.50 C471.75 117.00 470.13 118.88 467.00 121.50 C463.87 124.12 459.13 127.73 455.20 130.20 C451.27 132.67 447.83 134.28 443.40 136.30 C438.97 138.32 432.97 140.07 428.60 142.30 C424.23 144.53 419.10 148.47 417.20 149.70" fill="none" stroke="#000" stroke-width="1.25" stroke-linecap="round" stroke-linejoin="round"/>
<path d="M50.50 79.80 C51.75 79.58 55.42 78.93 58.00 78.50 C60.58 78.07 63.17 77.65 66.00 77.20 C68.83 76.75 72.00 76.23 75.00 75.80 C78.00 75.37 81.17 74.87 84.00 74.60 C86.83 74.33 89.33 74.17 92.00 74.20 C94.67 74.23 97.67 74.33 100.00 74.80 C102.33 75.27 104.25 76.05 106.00 77.00 C107.75 77.95 109.45 79.17 110.50 80.50 C111.55 81.83 112.30 83.33 112.30 85.00 C112.30 86.67 111.55 88.75 110.50 90.50 C109.45 92.25 107.75 94.25 106.00 95.50 C104.25 96.75 102.17 97.42 100.00 98.00 C97.83 98.58 95.50 99.08 93.00 99.00 C90.50 98.92 87.83 98.42 85.00 97.50 C82.17 96.58 79.17 95.00 76.00 93.50 C72.83 92.00 69.17 90.17 66.00 88.50 C62.83 86.83 59.58 84.95 57.00 83.50 C54.42 82.05 51.58 80.42 50.50 79.80" fill="none" stroke="#0b0bf2" stroke-width="2.00" stroke-linecap="round" stroke-linejoin="round"/>
<path d="M50.50 79.80 C52.42 79.33 57.92 77.87 62.00 77.00 C66.08 76.13 70.67 75.20 75.00 74.60 C79.33 74.00 84.50 73.53 88.00 73.40 C91.50 73.27 93.50 73.37 96.00 73.80 C98.50 74.23 100.87 75.00 103.00 76.00 C105.13 77.00 107.47 78.30 108.80 79.80 C110.13 81.30 110.97 83.17 111.00 85.00 C111.03 86.83 110.17 89.00 109.00 90.80 C107.83 92.60 105.83 94.67 104.00 95.80 C102.17 96.93 100.17 97.27 98.00 97.60 C95.83 97.93 93.33 97.98 91.00 97.80 C88.67 97.62 85.17 96.72 84.00 96.50" fill="none" stroke="#0b0bf2" stroke-width="2.00" stroke-linecap="round" stroke-linejoin="round"/>
<path d="M104.50 92.20 C105.00 91.75 106.70 90.70 107.50 89.50 C108.30 88.30 109.25 86.50 109.30 85.00 C109.35 83.50 108.77 81.78 107.80 80.50 C106.83 79.22 105.47 78.00 103.50 77.30 C101.53 76.60 98.42 76.38 96.00 76.30 C93.58 76.22 91.05 76.27 89.00 76.80 C86.95 77.33 85.03 78.30 83.70 79.50 C82.37 80.70 81.37 82.33 81.00 84.00 C80.63 85.67 80.83 87.95 81.50 89.50 C82.17 91.05 83.42 92.28 85.00 93.30 C86.58 94.32 89.00 95.17 91.00 95.60 C93.00 96.03 95.17 96.03 97.00 95.90 C98.83 95.77 100.75 95.42 102.00 94.80 C103.25 94.18 104.30 92.73 104.50 92.20 C104.70 91.67 103.42 91.70 103.20 91.60" fill="none" stroke="#0b0bf2" stroke-width="2.00" stroke-linecap="round" stroke-linejoin="round"/>
<path d="M50.50 79.80 C52.08 79.43 56.75 78.35 60.00 77.60" fill="none" stroke="#0b0bf2" stroke-width="1.90" stroke-linecap="round"/>
<path d="M60.00 77.60 C63.25 76.85 66.67 75.97 70.00 75.30" fill="none" stroke="#0b0bf2" stroke-width="1.90" stroke-linecap="round"/>
<path d="M70.00 75.30 C73.33 74.63 77.00 74.05 80.00 73.60" fill="none" stroke="#0b0bf2" stroke-width="1.90" stroke-linecap="round"/>
<path d="M80.00 73.60 C83.00 73.15 85.83 72.77 88.00 72.60" fill="none" stroke="#0b0bf2" stroke-width="1.90" stroke-linecap="round"/>
<path d="M88.00 72.60 C90.17 72.43 91.67 72.53 93.00 72.60" fill="none" stroke="#0b0bf2" stroke-width="1.90" stroke-linecap="round"/>
<path d="M93.00 72.60 C94.33 72.67 94.67 72.77 96.00 73.00" fill="none" stroke="#1a78ff" stroke-width="1.90" stroke-linecap="round"/>
<path d="M96.00 73.00 C97.33 73.23 99.42 73.57 101.00 74.00" fill="none" stroke="#00eeff" stroke-width="1.90" stroke-linecap="round"/>
<path d="M101.00 74.00 C102.58 74.43 104.08 74.97 105.50 75.60" fill="none" stroke="#00eeff" stroke-width="1.90" stroke-linecap="round"/>
<path d="M105.50 75.60 C106.92 76.23 108.25 76.97 109.50 77.80" fill="none" stroke="#00eeff" stroke-width="1.90" stroke-linecap="round"/>
<path d="M109.50 77.80 C110.75 78.63 111.83 79.67 113.00 80.60" fill="none" stroke="#00e676" stroke-width="1.90" stroke-linecap="round"/>
<path d="M113.00 80.60 C114.17 81.53 115.53 82.53 116.50 83.40" fill="none" stroke="#22e622" stroke-width="1.90" stroke-linecap="round"/>
<path d="M116.50 83.40 C117.47 84.27 118.12 84.98 118.80 85.80" fill="none" stroke="#22e622" stroke-width="1.90" stroke-linecap="round"/>
<path d="M118.80 85.80 C119.48 86.62 120.03 87.43 120.60 88.30" fill="none" stroke="#22e622" stroke-width="1.90" stroke-linecap="round"/>
<path d="M120.60 88.30 C121.17 89.17 121.70 90.05 122.20 91.00" fill="none" stroke="#ffe600" stroke-width="1.90" stroke-linecap="round"/>
<path d="M122.20 91.00 C122.70 91.95 123.17 92.92 123.60 94.00" fill="none" stroke="#ff7a00" stroke-width="1.90" stroke-linecap="round"/>
<path d="M123.60 94.00 C124.03 95.08 124.52 96.33 124.80 97.50" fill="none" stroke="#ff0000" stroke-width="1.90" stroke-linecap="round"/>
<path d="M124.80 97.50 C125.08 98.67 125.27 99.83 125.30 101.00" fill="none" stroke="#ff0000" stroke-width="1.90" stroke-linecap="round"/>
<path d="M125.30 101.00 C125.33 102.17 125.18 103.30 125.00 104.50" fill="none" stroke="#ff0000" stroke-width="1.90" stroke-linecap="round"/>
<path d="M125.00 104.50 C124.82 105.70 124.53 107.08 124.20 108.20" fill="none" stroke="#ff0000" stroke-width="1.90" stroke-linecap="round"/>
<path d="M124.20 108.20 C123.87 109.32 123.43 110.27 123.00 111.20" fill="none" stroke="#ff7a00" stroke-width="1.90" stroke-linecap="round"/>
<path d="M123.00 111.20 C122.57 112.13 122.10 112.95 121.60 113.80" fill="none" stroke="#ffe600" stroke-width="1.90" stroke-linecap="round"/>
<path d="M121.60 113.80 C121.10 114.65 120.57 115.47 120.00 116.30" fill="none" stroke="#22e622" stroke-width="1.90" stroke-linecap="round"/>
<path d="M120.00 116.30 C119.43 117.13 119.37 117.13 118.20 118.80" fill="none" stroke="#00eeff" stroke-width="1.90" stroke-linecap="round"/>
<path d="M118.20 118.80 C117.03 120.47 114.87 124.00 113.00 126.30" fill="none" stroke="#1a78ff" stroke-width="1.90" stroke-linecap="round"/>
<path d="M113.00 126.30 C111.13 128.60 109.17 131.28 107.00 132.60" fill="none" stroke="#0b0bf2" stroke-width="1.90" stroke-linecap="round"/>
<path d="M107.00 132.60 C104.83 133.92 102.83 133.87 100.00 134.20" fill="none" stroke="#0b0bf2" stroke-width="1.90" stroke-linecap="round"/>
<path d="M100.00 134.20 C97.17 134.53 93.67 134.52 90.00 134.60" fill="none" stroke="#0b0bf2" stroke-width="1.90" stroke-linecap="round"/>
<path d="M90.00 134.60 C86.33 134.68 82.03 134.73 78.00 134.70" fill="none" stroke="#0b0bf2" stroke-width="1.90" stroke-linecap="round"/>
<path d="M78.00 134.70 C73.97 134.67 67.83 134.45 65.80 134.40" fill="none" stroke="#0b0bf2" stroke-width="1.90" stroke-linecap="round"/>
<path d="M65.80 134.40 C66.17 133.67 67.05 131.65 68.00 130.00 C68.95 128.35 70.47 126.20 71.50 124.50 C72.53 122.80 73.63 121.40 74.20 119.80 C74.77 118.20 74.93 116.87 74.90 114.90 C74.87 112.93 74.22 110.45 74.00 108.00 C73.78 105.55 73.52 102.62 73.60 100.20 C73.68 97.78 74.07 95.43 74.50 93.50 C74.93 91.57 75.53 90.60 76.20 88.60 C76.87 86.60 77.67 83.77 78.50 81.50 C79.33 79.23 79.95 77.55 81.20 75.00 C82.45 72.45 84.03 68.50 86.00 66.20 C87.97 63.90 90.83 62.40 93.00 61.20 C95.17 60.00 97.00 59.47 99.00 59.00 C101.00 58.53 102.87 58.47 105.00 58.40 C107.13 58.33 109.27 58.02 111.80 58.60 C114.33 59.18 117.40 60.47 120.20 61.90 C123.00 63.33 126.30 65.47 128.60 67.20 C130.90 68.93 132.33 70.50 134.00 72.30 C135.67 74.10 137.18 75.97 138.60 78.00 C140.02 80.03 141.50 82.75 142.50 84.50 C143.50 86.25 144.08 87.28 144.60 88.50 C145.12 89.72 145.43 91.25 145.60 91.80" fill="none" stroke="#0b0bf2" stroke-width="2.00" stroke-linecap="round" stroke-linejoin="round"/>
<path d="M233.90 62.50 C234.12 62.00 234.65 60.55 235.20 59.50 C235.75 58.45 236.95 57.18 237.20 56.20 C237.45 55.22 237.32 54.23 236.70 53.60 C236.08 52.97 234.53 52.47 233.50 52.40 C232.47 52.33 231.12 52.72 230.50 53.20 C229.88 53.68 229.30 54.58 229.80 55.30 C230.30 56.02 232.05 56.80 233.50 57.50 C234.95 58.20 236.42 59.08 238.50 59.50 C240.58 59.92 243.42 59.95 246.00 60.00 C248.58 60.05 250.40 59.52 254.00 59.80 C257.60 60.08 263.23 60.68 267.60 61.70 C271.97 62.72 276.42 64.22 280.20 65.90 C283.98 67.58 287.50 69.70 290.30 71.80 C293.10 73.90 295.13 76.30 297.00 78.50 C298.87 80.70 300.42 82.92 301.50 85.00 C302.58 87.08 303.33 88.58 303.50 91.00 C303.67 93.42 303.32 96.92 302.50 99.50 C301.68 102.08 300.52 104.08 298.60 106.50 C296.68 108.92 294.52 111.50 291.00 114.00 C287.48 116.50 282.25 119.50 277.50 121.50 C272.75 123.50 267.08 124.82 262.50 126.00 C257.92 127.18 253.00 127.97 250.00 128.60 C247.00 129.23 245.83 129.70 244.50 129.80 C243.17 129.90 242.67 129.07 242.00 129.20 C241.33 129.33 240.58 130.10 240.50 130.60 C240.42 131.10 241.00 132.10 241.50 132.20 C242.00 132.30 243.17 131.37 243.50 131.20" fill="none" stroke="#0b0bf2" stroke-width="2.00" stroke-linecap="round" stroke-linejoin="round"/>
<path d="M233.90 62.50 C234.08 62.92 234.40 64.67 235.00 65.00 C235.60 65.33 236.58 65.00 237.50 64.50 C238.42 64.00 239.25 62.58 240.50 62.00 C241.75 61.42 242.75 61.02 245.00 61.00 C247.25 60.98 250.17 61.28 254.00 61.90 C257.83 62.52 263.80 63.42 268.00 64.70 C272.20 65.98 275.78 67.80 279.20 69.60 C282.62 71.40 285.70 73.18 288.50 75.50 C291.30 77.82 294.00 80.67 296.00 83.50 C298.00 86.33 300.08 89.58 300.50 92.50 C300.92 95.42 299.58 98.83 298.50 101.00 C297.42 103.17 296.25 103.83 294.00 105.50 C291.75 107.17 289.00 108.83 285.00 111.00 C281.00 113.17 275.00 116.25 270.00 118.50 C265.00 120.75 259.17 122.83 255.00 124.50 C250.83 126.17 247.25 127.50 245.00 128.50 C242.75 129.50 242.42 129.67 241.50 130.50 C240.58 131.33 240.17 132.58 239.50 133.50 C238.83 134.42 238.03 135.28 237.50 136.00 C236.97 136.72 236.50 137.50 236.30 137.80" fill="none" stroke="#0b0bf2" stroke-width="2.00" stroke-linecap="round" stroke-linejoin="round"/>
<path d="M215.00 86.40 C216.03 85.60 218.30 83.62 221.20 81.60 C224.10 79.58 228.67 76.27 232.40 74.30 C236.13 72.33 239.87 70.92 243.60 69.80 C247.33 68.68 251.07 67.97 254.80 67.60 C258.53 67.23 262.38 67.20 266.00 67.60 C269.62 68.00 273.50 68.68 276.50 70.00 C279.50 71.32 282.00 73.50 284.00 75.50 C286.00 77.50 287.50 79.67 288.50 82.00 C289.50 84.33 289.92 86.83 290.00 89.50 C290.08 92.17 289.83 95.33 289.00 98.00 C288.17 100.67 286.67 103.33 285.00 105.50 C283.33 107.67 281.33 109.50 279.00 111.00 C276.67 112.50 273.83 113.67 271.00 114.50 C268.17 115.33 264.83 115.88 262.00 116.00 C259.17 116.12 257.07 115.82 254.00 115.20 C250.93 114.58 247.20 113.30 243.60 112.30 C240.00 111.30 236.00 110.50 232.40 109.20 C228.80 107.90 224.80 106.10 222.00 104.50 C219.20 102.90 216.67 100.42 215.60 99.60" fill="none" stroke="#0b0bf2" stroke-width="2.00" stroke-linecap="round" stroke-linejoin="round"/>
<path d="M215.20 86.80 C216.27 86.10 218.67 84.47 221.60 82.60 C224.53 80.73 229.07 77.50 232.80 75.60 C236.53 73.70 240.30 72.20 244.00 71.20 C247.70 70.20 251.33 69.83 255.00 69.60 C258.67 69.37 262.83 69.27 266.00 69.80 C269.17 70.33 271.67 71.27 274.00 72.80 C276.33 74.33 278.50 76.72 280.00 79.00 C281.50 81.28 282.50 84.00 283.00 86.50 C283.50 89.00 283.50 91.50 283.00 94.00 C282.50 96.50 281.50 99.25 280.00 101.50 C278.50 103.75 276.33 105.92 274.00 107.50 C271.67 109.08 269.00 110.15 266.00 111.00 C263.00 111.85 259.50 112.50 256.00 112.60 C252.50 112.70 248.33 112.17 245.00 111.60 C241.67 111.03 238.83 110.13 236.00 109.20 C233.17 108.27 230.47 107.00 228.00 106.00 C225.53 105.00 223.27 104.32 221.20 103.20 C219.13 102.08 216.53 99.95 215.60 99.30" fill="none" stroke="#0b0bf2" stroke-width="2.00" stroke-linecap="round" stroke-linejoin="round"/>
<path d="M215.50 99.00 C216.17 98.42 218.18 96.62 219.50 95.50 C220.82 94.38 222.18 93.80 223.40 92.30 C224.62 90.80 225.30 88.75 226.80 86.50 C228.30 84.25 230.35 80.98 232.40 78.80 C234.45 76.62 236.17 74.90 239.10 73.40 C242.03 71.90 246.35 70.53 250.00 69.80 C253.65 69.07 257.67 68.57 261.00 69.00 C264.33 69.43 267.42 70.67 270.00 72.40 C272.58 74.13 275.00 76.63 276.50 79.40 C278.00 82.17 278.83 85.82 279.00 89.00 C279.17 92.18 278.58 95.75 277.50 98.50 C276.42 101.25 274.58 103.67 272.50 105.50 C270.42 107.33 267.75 108.65 265.00 109.50 C262.25 110.35 257.50 110.42 256.00 110.60" fill="none" stroke="#0b0bf2" stroke-width="2.00" stroke-linecap="round" stroke-linejoin="round"/>
<path d="M215.00 86.20 C215.70 86.75 217.80 88.37 219.20 89.50 C220.60 90.63 221.77 91.32 223.40 93.00 C225.03 94.68 226.75 97.57 229.00 99.60 C231.25 101.63 234.47 103.80 236.90 105.20 C239.33 106.60 241.42 107.30 243.60 108.00 C245.78 108.70 247.60 109.03 250.00 109.40 C252.40 109.77 256.67 110.07 258.00 110.20" fill="none" stroke="#0b0bf2" stroke-width="2.00" stroke-linecap="round" stroke-linejoin="round"/>
<path d="M252.00 104.00 C252.50 105.17 253.00 109.08 255.00 111.00 C257.00 112.92 260.75 115.00 264.00 115.50 C267.25 116.00 271.50 115.75 274.50 114.00 C277.50 112.25 280.75 106.50 282.00 105.00" fill="none" stroke="#0b0bf2" stroke-width="2.00" stroke-linecap="round" stroke-linejoin="round"/>
<path d="M275.20 83.00 C275.20 84.59 274.89 86.31 274.35 87.78 C273.80 89.26 272.93 90.71 271.92 91.84 C270.91 92.97 269.61 93.94 268.29 94.55 C266.97 95.16 265.43 95.50 264.00 95.50 C262.57 95.50 261.03 95.16 259.71 94.55 C258.39 93.94 257.09 92.97 256.08 91.84 C255.07 90.71 254.20 89.26 253.65 87.78 C253.11 86.31 252.80 84.59 252.80 83.00 C252.80 81.41 253.11 79.69 253.65 78.22 C254.20 76.74 255.07 75.29 256.08 74.16 C257.09 73.03 258.39 72.06 259.71 71.45 C261.03 70.84 262.57 70.50 264.00 70.50 C265.43 70.50 266.97 70.84 268.29 71.45 C269.61 72.06 270.91 73.03 271.92 74.16 C272.93 75.29 273.80 76.74 274.35 78.22 C274.89 79.69 275.20 81.41 275.20 83.00Z" fill="none" stroke="#0b0bf2" stroke-width="2.00" stroke-linecap="round" stroke-linejoin="round"/>
<path d="M271.10 99.00 C271.10 100.35 270.82 101.81 270.32 103.06 C269.81 104.31 269.01 105.54 268.08 106.50 C267.15 107.45 265.96 108.28 264.74 108.79 C263.53 109.31 262.11 109.60 260.80 109.60 C259.49 109.60 258.07 109.31 256.86 108.79 C255.64 108.28 254.45 107.45 253.52 106.50 C252.59 105.54 251.79 104.31 251.28 103.06 C250.78 101.81 250.50 100.35 250.50 99.00 C250.50 97.65 250.78 96.19 251.28 94.94 C251.79 93.69 252.59 92.46 253.52 91.50 C254.45 90.55 255.64 89.72 256.86 89.21 C258.07 88.69 259.49 88.40 260.80 88.40 C262.11 88.40 263.53 88.69 264.74 89.21 C265.96 89.72 267.15 90.55 268.08 91.50 C269.01 92.46 269.81 93.69 270.32 94.94 C270.82 96.19 271.10 97.65 271.10 99.00Z" fill="none" stroke="#0b0bf2" stroke-width="2.00" stroke-linecap="round" stroke-linejoin="round"/>
<path d="M271.10 94.00 C271.10 94.43 271.00 94.90 270.83 95.30 C270.65 95.70 270.37 96.10 270.05 96.40 C269.72 96.71 269.30 96.98 268.88 97.14 C268.45 97.31 267.96 97.40 267.50 97.40 C267.04 97.40 266.55 97.31 266.12 97.14 C265.70 96.98 265.28 96.71 264.95 96.40 C264.63 96.10 264.35 95.70 264.17 95.30 C264.00 94.90 263.90 94.43 263.90 94.00 C263.90 93.57 264.00 93.10 264.17 92.70 C264.35 92.30 264.63 91.90 264.95 91.60 C265.28 91.29 265.70 91.02 266.12 90.86 C266.55 90.69 267.04 90.60 267.50 90.60 C267.96 90.60 268.45 90.69 268.88 90.86 C269.30 91.02 269.72 91.29 270.05 91.60 C270.37 91.90 270.65 92.30 270.83 92.70 C271.00 93.10 271.10 93.57 271.10 94.00Z" fill="none" stroke="#0b0bf2" stroke-width="2.00" stroke-linecap="round" stroke-linejoin="round"/>
<path d="M255.40 88.40 C256.33 88.23 259.23 87.67 261.00 87.40" fill="none" stroke="#00eeff" stroke-width="1.60" stroke-linecap="round"/>
<path d="M261.00 87.40 C262.77 87.13 265.17 86.90 266.00 86.80" fill="none" stroke="#00eeff" stroke-width="1.60" stroke-linecap="round"/>
<path d="M261.80 90.20 C261.92 89.73 262.03 88.13 262.50 87.40" fill="none" stroke="#22e622" stroke-width="1.80" stroke-linecap="round"/>
<path d="M262.50 87.40 C262.97 86.67 263.80 86.10 264.60 85.80" fill="none" stroke="#ffe600" stroke-width="1.80" stroke-linecap="round"/>
<path d="M264.60 85.80 C265.40 85.50 266.50 85.43 267.30 85.60" fill="none" stroke="#ff7a00" stroke-width="1.80" stroke-linecap="round"/>
<path d="M267.30 85.60 C268.10 85.77 268.92 86.15 269.40 86.80" fill="none" stroke="#ffe600" stroke-width="1.80" stroke-linecap="round"/>
<path d="M269.40 86.80 C269.88 87.45 270.20 88.57 270.20 89.50" fill="none" stroke="#00eeff" stroke-width="1.80" stroke-linecap="round"/>
<path d="M270.20 89.50 C270.20 90.43 269.97 91.60 269.40 92.40" fill="none" stroke="#00eeff" stroke-width="1.80" stroke-linecap="round"/>
<path d="M269.40 92.40 C268.83 93.20 267.70 94.03 266.80 94.30" fill="none" stroke="#1a78ff" stroke-width="1.80" stroke-linecap="round"/>
<path d="M266.80 94.30 C265.90 94.57 264.75 94.33 264.00 94.00" fill="none" stroke="#0b0bf2" stroke-width="1.80" stroke-linecap="round"/>
<path d="M264.00 94.00 C263.25 93.67 262.67 92.93 262.30 92.30" fill="none" stroke="#00e676" stroke-width="1.80" stroke-linecap="round"/>
<path d="M262.30 92.30 C261.93 91.67 261.88 90.55 261.80 90.20" fill="none" stroke="#22e622" stroke-width="1.80" stroke-linecap="round"/>
<path d="M270.50 90.90 C270.70 92.20 272.07 96.47 271.70 98.70" fill="none" stroke="#00e676" stroke-width="1.80" stroke-linecap="round"/>
<path d="M271.70 98.70 C271.33 100.93 269.98 102.80 268.30 104.30" fill="none" stroke="#22e622" stroke-width="1.80" stroke-linecap="round"/>
<path d="M268.30 104.30 C266.62 105.80 263.85 106.95 261.60 107.70" fill="none" stroke="#22e622" stroke-width="1.80" stroke-linecap="round"/>
<path d="M261.60 107.70 C259.35 108.45 256.73 108.67 254.80 108.80" fill="none" stroke="#00e676" stroke-width="1.80" stroke-linecap="round"/>
<path d="M254.80 108.80 C252.87 108.93 250.80 108.55 250.00 108.50" fill="none" stroke="#00eeff" stroke-width="1.80" stroke-linecap="round"/>
<path d="M257.60 66.60 C258.07 66.57 259.93 66.43 260.40 66.40" fill="none" stroke="#22e622" stroke-width="1.90" stroke-linecap="round" stroke-linejoin="round"/>
<path d="M262.50 63.30 C263.33 63.47 266.67 64.13 267.50 64.30" fill="none" stroke="#1a78ff" stroke-width="1.90" stroke-linecap="round" stroke-linejoin="round"/>
<path d="M279.50 65.60 C280.33 66.00 282.82 67.05 284.50 68.00 C286.18 68.95 288.75 70.75 289.60 71.30" fill="none" stroke="#1a78ff" stroke-width="1.90" stroke-linecap="round" stroke-linejoin="round"/>
<path d="M463.50 104.50 C464.28 103.35 466.95 99.68 468.20 97.60 C469.45 95.52 470.42 94.10 471.00 92.00 C471.58 89.90 471.93 87.45 471.70 85.00 C471.47 82.55 470.88 79.87 469.60 77.30 C468.32 74.73 466.10 71.93 464.00 69.60 C461.90 67.27 459.03 65.05 457.00 63.30 C454.97 61.55 454.63 60.50 451.80 59.10 C448.97 57.70 443.63 55.85 440.00 54.90 C436.37 53.95 433.08 53.72 430.00 53.40 C426.92 53.08 423.13 53.37 421.50 53.00 C419.87 52.63 419.87 52.03 420.20 51.20 C420.53 50.37 422.08 49.17 423.50 48.00 C424.92 46.83 427.03 44.95 428.70 44.20 C430.37 43.45 432.52 43.23 433.50 43.50 C434.48 43.77 434.93 44.85 434.60 45.80 C434.27 46.75 433.10 48.13 431.50 49.20 C429.90 50.27 426.75 51.23 425.00 52.20 C423.25 53.17 421.70 53.87 421.00 55.00 C420.30 56.13 420.22 57.58 420.80 59.00 C421.38 60.42 422.97 62.13 424.50 63.50 C426.03 64.87 427.92 65.87 430.00 67.20 C432.08 68.53 434.83 70.30 437.00 71.50 C439.17 72.70 440.83 73.43 443.00 74.40 C445.17 75.37 447.67 76.23 450.00 77.30 C452.33 78.37 455.00 79.43 457.00 80.80 C459.00 82.17 460.67 83.80 462.00 85.50 C463.33 87.20 464.40 89.17 465.00 91.00 C465.60 92.83 465.85 94.58 465.60 96.50 C465.35 98.42 464.68 100.72 463.50 102.50 C462.32 104.28 460.72 105.98 458.50 107.20 C456.28 108.42 453.28 109.12 450.20 109.80 C447.12 110.48 443.03 111.13 440.00 111.30 C436.97 111.47 434.58 111.38 432.00 110.80 C429.42 110.22 426.50 109.27 424.50 107.80 C422.50 106.33 420.97 104.13 420.00 102.00 C419.03 99.87 418.65 97.42 418.70 95.00 C418.75 92.58 419.25 89.75 420.30 87.50 C421.35 85.25 423.18 83.17 425.00 81.50 C426.82 79.83 428.97 78.60 431.20 77.50 C433.43 76.40 436.43 75.42 438.40 74.90 C440.37 74.38 442.23 74.48 443.00 74.40" fill="none" stroke="#0b0bf2" stroke-width="2.00" stroke-linecap="round" stroke-linejoin="round"/>
<path d="M443.00 74.40 C443.43 74.25 444.43 73.73 445.60 73.50" fill="none" stroke="#ff7a00" stroke-width="1.90" stroke-linecap="round"/>
<path d="M445.60 73.50 C446.77 73.27 448.33 73.07 450.00 73.00" fill="none" stroke="#ff0000" stroke-width="1.90" stroke-linecap="round"/>
<path d="M450.00 73.00 C451.67 72.93 454.18 73.00 455.60 73.10" fill="none" stroke="#ff0000" stroke-width="1.90" stroke-linecap="round"/>
<path d="M455.60 73.10 C457.02 73.20 457.57 73.37 458.50 73.60" fill="none" stroke="#ffe600" stroke-width="1.90" stroke-linecap="round"/>
<path d="M458.50 73.60 C459.43 73.83 460.28 74.18 461.20 74.50" fill="none" stroke="#ffe600" stroke-width="1.90" stroke-linecap="round"/>
<path d="M461.20 74.50 C462.12 74.82 463.07 75.15 464.00 75.50" fill="none" stroke="#22e622" stroke-width="1.90" stroke-linecap="round"/>
<path d="M464.00 75.50 C464.93 75.85 465.97 76.25 466.80 76.60" fill="none" stroke="#00e676" stroke-width="1.90" stroke-linecap="round"/>
<path d="M466.80 76.60 C467.63 76.95 468.30 77.25 469.00 77.60" fill="none" stroke="#00eeff" stroke-width="1.90" stroke-linecap="round"/>
<path d="M469.00 77.60 C469.70 77.95 469.50 77.70 471.00 78.70" fill="none" stroke="#1a78ff" stroke-width="1.90" stroke-linecap="round"/>
<path d="M471.00 78.70 C472.50 79.70 475.58 81.55 478.00 83.60" fill="none" stroke="#0b0bf2" stroke-width="1.90" stroke-linecap="round"/>
<path d="M478.00 83.60 C480.42 85.65 484.25 89.77 485.50 91.00" fill="none" stroke="#0b0bf2" stroke-width="1.90" stroke-linecap="round"/>
<path d="M443.00 74.40 C442.75 74.73 442.00 75.37 441.50 76.40" fill="none" stroke="#ff7a00" stroke-width="1.90" stroke-linecap="round"/>
<path d="M441.50 76.40 C441.00 77.43 440.17 79.13 440.00 80.60" fill="none" stroke="#ffe600" stroke-width="1.90" stroke-linecap="round"/>
<path d="M440.00 80.60 C439.83 82.07 439.90 84.00 440.50 85.20" fill="none" stroke="#ffe600" stroke-width="1.90" stroke-linecap="round"/>
<path d="M440.50 85.20 C441.10 86.40 442.48 87.53 443.60 87.80" fill="none" stroke="#22e622" stroke-width="1.90" stroke-linecap="round"/>
<path d="M443.60 87.80 C444.72 88.07 446.25 87.48 447.20 86.80" fill="none" stroke="#00eeff" stroke-width="1.90" stroke-linecap="round"/>
<path d="M447.20 86.80 C448.15 86.12 449.13 84.92 449.30 83.70" fill="none" stroke="#0b0bf2" stroke-width="1.90" stroke-linecap="round"/>
<path d="M449.30 83.70 C449.47 82.48 448.82 80.72 448.20 79.50" fill="none" stroke="#0b0bf2" stroke-width="1.90" stroke-linecap="round"/>
<path d="M448.20 79.50 C447.58 78.28 446.47 77.25 445.60 76.40" fill="none" stroke="#0b0bf2" stroke-width="1.90" stroke-linecap="round"/>
<path d="M445.60 76.40 C444.73 75.55 443.43 74.73 443.00 74.40" fill="none" stroke="#0b0bf2" stroke-width="1.90" stroke-linecap="round"/>
<path d="M462.00 107.00 C460.47 108.28 455.65 112.53 452.80 114.70 C449.95 116.87 447.30 118.68 444.90 120.00 C442.50 121.32 441.02 122.05 438.40 122.60 C435.78 123.15 432.48 123.63 429.20 123.30 C425.92 122.97 422.22 121.48 418.70 120.60 C415.18 119.72 410.68 118.90 408.10 118.00 C405.52 117.10 404.23 116.87 403.20 115.20 C402.17 113.53 402.00 110.53 401.90 108.00 C401.80 105.47 402.22 102.17 402.60 100.00 C402.98 97.83 403.57 96.27 404.20 95.00 C404.83 93.73 405.67 92.92 406.40 92.40 C407.13 91.88 407.87 91.65 408.60 91.90 C409.33 92.15 409.93 92.95 410.80 93.90 C411.67 94.85 412.72 96.28 413.80 97.60 C414.88 98.92 415.62 99.85 417.30 101.80 C418.98 103.75 421.48 107.18 423.90 109.30 C426.32 111.42 428.95 113.30 431.80 114.50 C434.65 115.70 437.93 116.28 441.00 116.50 C444.07 116.72 447.37 116.53 450.20 115.80 C453.03 115.07 455.78 113.98 458.00 112.10 C460.22 110.22 462.58 105.77 463.50 104.50" fill="none" stroke="#0b0bf2" stroke-width="2.00" stroke-linecap="round" stroke-linejoin="round"/>
<path d="M442.30 118.70 C440.55 118.80 435.30 119.35 431.80 119.30 C428.30 119.25 423.38 118.47 421.30 118.40 C419.22 118.33 419.42 118.53 419.30 118.90 C419.18 119.27 419.40 119.55 420.60 120.60 C421.80 121.65 424.20 123.55 426.50 125.20 C428.80 126.85 431.98 129.10 434.40 130.50 C436.82 131.90 439.17 133.05 441.00 133.60 C442.83 134.15 444.42 134.32 445.40 133.80 C446.38 133.28 446.65 131.05 446.90 130.50" fill="none" stroke="#0b0bf2" stroke-width="2.00" stroke-linecap="round" stroke-linejoin="round"/>
</svg></body></html>
